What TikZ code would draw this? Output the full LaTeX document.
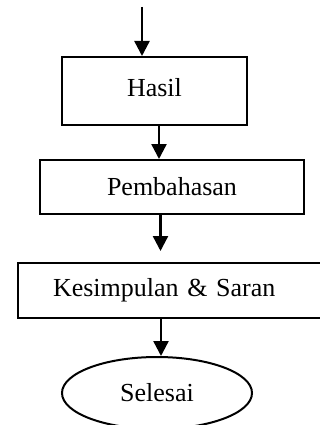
\documentclass[tikz,border=0pt]{standalone}
\usepackage{fontspec}
\setmainfont{Liberation Serif}
\usetikzlibrary{arrows.meta,shapes.geometric}
\begin{document}
\begin{tikzpicture}[x=1pt,y=-1pt,
  box/.style={draw,line width=2pt,rectangle,inner sep=0pt,font=\fontsize{26}{30}\selectfont},
  endbox/.style={draw,line width=2pt,ellipse,inner sep=0pt,minimum width=190pt,minimum height=72pt,font=\fontsize{26}{30}\selectfont},
  arr/.style={line width=2.4pt,-{Triangle[width=15pt,length=15pt]}}]
\clip (0,0) rectangle (320,425);
\fill[white] (0,0) rectangle (320,425);
\node[box,minimum width=185pt,minimum height=68pt] (hasil) at (154.5,91) {\raisebox{8pt}{Hasil}};
\node[box,minimum width=264pt,minimum height=54pt] (pemb) at (172,187) {Pembahasan};
\node[box,minimum width=312pt,minimum height=55pt,text width=290pt,align=left] (kes) at (174,290.5) {\hspace*{24pt}Kesimpulan \& Saran};
\node[endbox] (sel) at (157,393) {Selesai};
\coordinate (start) at (142,7);
\coordinate (c1) at (159,0);
\coordinate (c2) at (160.5,0);
\coordinate (c3) at (161,0);
\draw[arr] (start) -- (hasil.north -| start);
\draw[arr] (hasil.south -| c1) -- (pemb.north -| c1);
\draw[arr] (pemb.south -| c2) -- ([yshift=11pt]kes.north -| c2);
\draw[arr] (kes.south -| c3) -- (sel.north -| c3);
\end{tikzpicture}
\end{document}
